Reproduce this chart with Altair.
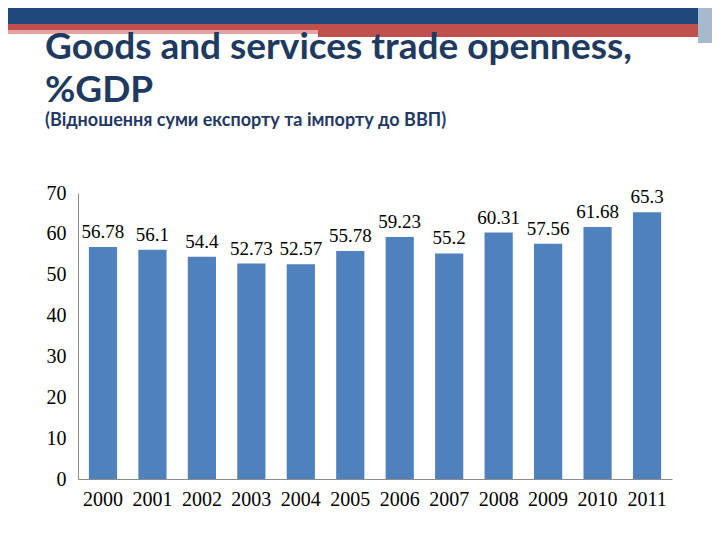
import altair as alt
import pandas as pd

years = ["2000", "2001", "2002", "2003", "2004", "2005", "2006", "2007", "2008", "2009", "2010", "2011"]
values = [56.78, 56.1, 54.4, 52.73, 52.57, 55.78, 59.23, 55.2, 60.31, 57.56, 61.68, 65.3]
labels = ["56.78", "56.1", "54.4", "52.73", "52.57", "55.78", "59.23", "55.2", "60.31", "57.56", "61.68", "65.3"]
y_ticks = [0, 10, 20, 30, 40, 50, 60, 70]
title_lines = ["Goods and services trade openness,", "%GDP"]
subtitle_text = "(Відношення суми експорту та імпорту до ВВП)"

df = pd.DataFrame({"year": years, "value": values, "label": labels})

serif = "Liberation Serif"

x = alt.X("year:N", sort=years, title=None,
          scale=alt.Scale(paddingInner=0.43, paddingOuter=0.22),
          axis=alt.Axis(labelAngle=0, ticks=False, labelPadding=10, labelFont=serif,
                        labelFontSize=20, labelColor="#000000", domainColor="#8c8c8c"))
y = alt.Y("value:Q", title=None,
          scale=alt.Scale(domain=[0, 70], nice=False),
          axis=alt.Axis(values=y_ticks, ticks=False, grid=False, labelPadding=12, labelFont=serif,
                        labelFontSize=20, labelColor="#000000", domainColor="#8c8c8c"))

base = alt.Chart(df)
bars = base.mark_bar(color="#4F81BD").encode(x=x, y=y)
text = base.mark_text(font=serif, fontSize=19, color="#000000", baseline="alphabetic", dy=-9).encode(
    x=alt.X("year:N", sort=years), y="value:Q", text="label:N")

one = alt.Data(values=[{}])
band1 = alt.Chart(one).mark_rect(color="#1F497D").encode(
    x=alt.value(-70), x2=alt.value(620), y=alt.value(-185), y2=alt.value(-169))
band2 = alt.Chart(one).mark_rect(color="#C0504D").encode(
    x=alt.value(-70), x2=alt.value(634), y=alt.value(-169), y2=alt.value(-163))
band3 = alt.Chart(one).mark_rect(color="#E6A3A0").encode(
    x=alt.value(-70), x2=alt.value(240), y=alt.value(-163), y2=alt.value(-159))
band4 = alt.Chart(one).mark_rect(color="#C0504D").encode(
    x=alt.value(240), x2=alt.value(634), y=alt.value(-163), y2=alt.value(-156))
band5 = alt.Chart(one).mark_rect(color="#A7B9CF").encode(
    x=alt.value(620), x2=alt.value(634), y=alt.value(-185), y2=alt.value(-150))

t1 = alt.Chart(one).mark_text(font="Lato", fontSize=37, fontWeight="bold", color="#1F3A60",
                              align="left", baseline="alphabetic", text=title_lines[0]).encode(
    x=alt.value(-33), y=alt.value(-134))
t2 = alt.Chart(one).mark_text(font="Lato", fontSize=37, fontWeight="bold", color="#1F3A60",
                              align="left", baseline="alphabetic", text=title_lines[1]).encode(
    x=alt.value(-33), y=alt.value(-91))
t3 = alt.Chart(one).mark_text(font="Lato", fontSize=18, fontWeight="bold", color="#1F3864",
                              align="left", baseline="alphabetic", text=subtitle_text).encode(
    x=alt.value(-33), y=alt.value(-67))

chart = alt.layer(band1, band2, band3, band4, band5, t1, t2, t3, bars, text).properties(
    width=594, height=286,
    autosize=alt.AutoSizeParams(type="none"),
    padding={"left": 70, "top": 185, "right": 40, "bottom": 53},
).configure_view(stroke=None)

chart.save("out.html", embed_options={"renderer": "svg", "actions": False})
